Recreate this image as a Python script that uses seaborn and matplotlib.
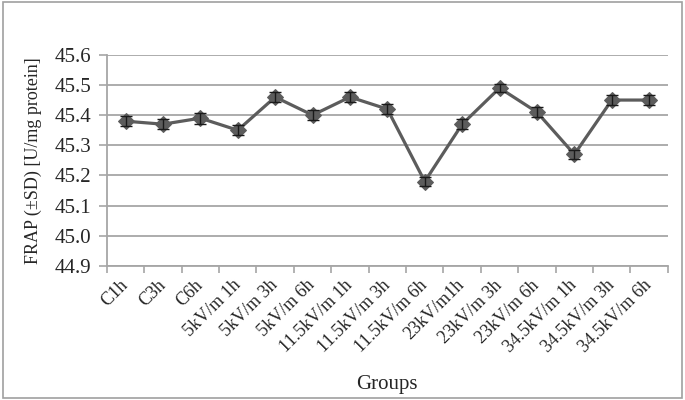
import numpy as np
import matplotlib
matplotlib.use("Agg")
import matplotlib.pyplot as plt
import matplotlib.transforms as mtransforms
import seaborn as sns

groups = ["C1h", "C3h", "C6h", "5kV/m 1h", "5kV/m 3h", "5kV/m 6h",
          "11.5kV/m 1h", "11.5kV/m 3h", "11.5kV/m 6h", "23kV/m1h",
          "23kV/m 3h", "23kV/m 6h", "34.5kV/m 1h", "34.5kV/m 3h", "34.5kV/m 6h"]
frap = [45.38, 45.37, 45.39, 45.35, 45.46, 45.40, 45.46, 45.42, 45.18,
        45.37, 45.49, 45.41, 45.27, 45.45, 45.45]
sd = [0.017, 0.017, 0.018, 0.017, 0.016, 0.016, 0.018, 0.016, 0.014,
      0.017, 0.014, 0.016, 0.015, 0.017, 0.017]
yticks = [44.9, 45.0, 45.1, 45.2, 45.3, 45.4, 45.5, 45.6]

sns.set_style("white")
plt.rcParams['font.family'] = ['Liberation Serif', 'DejaVu Serif']

fig = plt.figure(figsize=(6.85, 4), dpi=100)
ax = fig.add_axes([0.156, 0.335, 0.819, 0.528])

col = "#5c5c5c"
x = np.arange(len(groups))
sns.lineplot(x=x, y=frap, ax=ax, color=col, linewidth=2.3, marker="D",
             markersize=8, markeredgecolor=col, zorder=3)
ax.errorbar(x, frap, yerr=sd, fmt="none", ecolor="#1a1a1a", elinewidth=1,
            capsize=4, capthick=1, zorder=4)

ax.set_xlim(-0.5, len(groups) - 0.5)
ax.set_ylim(44.9, 45.6)
ax.set_yticks(yticks)
ax.set_yticklabels([f"{v:.1f}" for v in yticks], fontsize=15)
ax.yaxis.grid(True, color="#a6a6a6", linewidth=1.3)
ax.set_axisbelow(True)

ax.set_xticks(x)
ax.set_xticklabels(groups, rotation=45, ha="right", va="center",
                   rotation_mode="anchor", fontsize=13)
shift = mtransforms.ScaledTranslation(8 / 100, 0, fig.dpi_scale_trans)
for lbl in ax.get_xticklabels():
    lbl.set_transform(lbl.get_transform() + shift)
ax.set_xticks(np.arange(-0.5, len(groups)), minor=True)
ax.tick_params(axis="x", which="major", length=0, pad=12)
ax.tick_params(axis="x", which="minor", length=5, color="#a6a6a6", width=1.2,
               direction="out", bottom=True)
ax.tick_params(axis="y", length=6, color="#a6a6a6", width=1.2, left=True, pad=5)

for s in ["top", "right"]:
    ax.spines[s].set_visible(False)
for s in ["left", "bottom"]:
    ax.spines[s].set_color("#a6a6a6")
    ax.spines[s].set_linewidth(1.3)

ax.set_xlabel("Groups", fontsize=15, labelpad=14)
ax.set_ylabel("FRAP (\u00b1SD) [U/mg protein]", fontsize=13, labelpad=9)

fig.patches.append(plt.Rectangle((0.004, 0.004), 0.992, 0.99, transform=fig.transFigure,
                                 fill=False, edgecolor="#a0a0a0", linewidth=1.2))

fig.savefig("out.png", dpi=100)
